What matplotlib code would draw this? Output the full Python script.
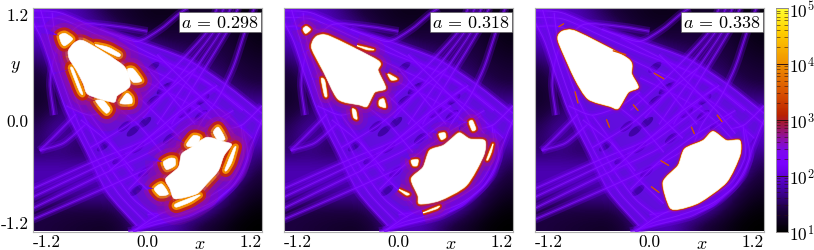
# Three panels of a log-scale density map with white islands, shared colour bar
import numpy as np
import matplotlib
matplotlib.use("Agg")
import matplotlib.pyplot as plt
from matplotlib.colors import LinearSegmentedColormap, LogNorm
from matplotlib.cm import ScalarMappable
from matplotlib.patches import Ellipse, PathPatch
from matplotlib.path import Path

plt.rcParams['font.family'] = ['cmr10', 'DejaVu Serif']
plt.rcParams['mathtext.fontset'] = 'cm'
plt.rcParams['axes.formatter.use_mathtext'] = True

a_values = ["0.298", "0.318", "0.338"]
tick_values = [-1.2, 0.0, 1.2]
tick_labels = ["-1.2", "0.0", "1.2"]
cbar_ticks = [1e1, 1e2, 1e3, 1e4, 1e5]

# rough density, rows from y=1.2 down to y=-1.2
background = np.array([
    [80, 80, 60, 35, 22, 18, 15, 14, 16, 18, 18, 14, 12],
    [90, 90, 100, 70, 45, 25, 20, 20, 22, 22, 22, 16, 13],
    [50, 90, 110, 110, 110, 90, 60, 35, 30, 28, 28, 20, 15],
    [25, 50, 110, 110, 110, 110, 110, 90, 60, 35, 30, 25, 20],
    [20, 30, 90, 110, 110, 110, 110, 110, 110, 90, 45, 30, 25],
    [18, 25, 55, 110, 110, 110, 110, 110, 110, 110, 90, 55, 45],
    [25, 45, 50, 90, 110, 110, 110, 110, 110, 110, 110, 110, 90],
    [35, 70, 35, 50, 90, 110, 110, 110, 110, 110, 110, 110, 80],
    [35, 35, 30, 35, 70, 110, 110, 110, 110, 110, 110, 90, 40],
    [70, 70, 70, 70, 70, 110, 110, 110, 110, 110, 110, 60, 25],
    [60, 60, 65, 60, 60, 90, 110, 110, 110, 110, 70, 30, 18],
    [30, 30, 28, 30, 30, 55, 90, 110, 110, 75, 35, 18, 12],
    [25, 22, 20, 18, 18, 28, 60, 70, 40, 22, 16, 11, 10],
])

# outline of the bright web
web_outline = [(-1.2, 1.18), (-.92, 1.15), (-.5, .97), (-.12, .85), (.41, .65), (.83, .37), (1.2, .07),
               (1.2, -.05), (1.04, -.28), (.935, -.6), (.69, -.92), (.34, -1.06), (-.045, -1.17), (-.11, -1.14),
               (-.424, -.776), (-.634, -.347), (-.85, .08), (-.97, .44), (-1.095, .83), (-1.2, 1.05)]

# filaments of the web, same in every panel
filaments = [
    [(-1.2, 1.17), (-.92, 1.15), (-.5, .97), (-.12, .85), (.41, .65), (.83, .37), (1.2, .07)],
    [(-1.2, 1.1), (-.9, 1.08), (-.5, .9), (-.1, .72), (.4, .52), (.8, .28), (1.2, -.05)],
    [(-1.2, 1.0), (-.95, 1.0), (-.6, .85), (-.1, .6), (.35, .38), (.75, .12), (1.1, -.2)],
    [(-.1, .45), (.3, .25), (.65, .02), (.95, -.3)],
    [(-.3, .88), (.2, .62), (.6, .42), (1.0, .1)],
    [(1.2, .0), (1.08, -.3), (.98, -.6), (.75, -.85), (.45, -1.03), (.1, -1.12), (-.2, -1.2)],
    [(1.0, -.1), (1.05, -.4), (.9, -.7), (.65, -.9), (.3, -1.03), (.05, -1.1), (-.15, -1.2)],
    [(.98, -.05), (1.0, -.4), (.85, -.68), (.6, -.85), (.3, -.97), (0, -1.02)],
    [(-.98, .05), (-1.02, .4), (-.95, .75), (-.7, 1.02), (-.3, 1.0), (0, .95)],
    [(-1.2, 1.05), (-1.095, .83), (-.97, .44), (-.85, .1), (-.634, -.347), (-.424, -.776), (-.11, -1.14)],
    [(-1.12, 1.18), (-1.0, .75), (-.87, .35), (-.72, -.05), (-.52, -.45), (-.3, -.8), (-.02, -1.1)],
    [(-1.0, 1.15), (-.95, .8), (-.78, .3), (-.6, -.1), (-.4, -.5), (-.15, -.85), (.1, -1.05)],
    [(-.6, .05), (-.35, -.3), (-.15, -.6), (.15, -.9)],
    [(-1.2, -.74), (-.5, -.42), (-.01, -.21), (.41, .12), (.73, .37)],
    [(-1.2, -.83), (-.5, -.49), (.025, -.24), (.55, .15)],
    [(-1.2, -.95), (-.5, -.6), (.095, -.31), (.62, .08)],
    [(-1.2, -1.07), (-.395, -.71), (.27, -.385), (.865, .045)],
    [(1.12, 1.2), (1.02, .94), (.9, .57), (.75, .25), (.55, -.05), (.45, -.3)],
    [(.95, 1.2), (.83, .94), (.58, .52), (.42, .25), (.25, -.05)],
    [(.87, 1.2), (.76, .94), (.5, .54), (.3, .25), (.1, -.05)],
    [(.8, 1.2), (.69, .94), (.42, .58), (.2, .3), (-.05, .02)],
    [(.73, 1.2), (.62, .94), (.32, .6), (.1, .38), (-.2, .1)],
    [(-.5, .97), (-.12, .84), (.13, .97), (.32, 1.13), (.42, 1.2)],
    [(-1.13, -.33), (-.97, -.17), (-.75, .06)],
    [(-1.13, -.33), (-.88, -.25), (-.65, -.05)],
    [(-.15, -1.2), (.1, -1.03), (.4, -.9)],
    [(1.2, .15), (1.0, -.05), (.85, -.1)],
    [(-.4, .2), (-.1, -.05), (.15, -.35)],
    [(-.2, .35), (.1, .05), (.35, -.2)],
    [(0, .55), (.25, .25), (.5, -.05)],
    [(-.7, 0), (-.4, -.25), (-.15, -.55)],
    [(-.6, -.3), (-.2, -.05), (.2, .3), (.5, .55)],
    [(-.4, -.55), (0, -.2), (.35, .1), (.7, .35)],
    [(-.2, -.75), (.1, -.45), (.5, -.15), (.9, .1)],
    [(.1, .7), (.4, .4), (.7, .1), (.9, -.15)],
    [(-.85, .15), (-.6, .05), (-.3, .15), (-.1, .3)],
]

# dark gaps between the filaments
hole_x = [.056, .21, .056, -.03, -.24, .56, .23, -.03, -.12, .58, .39, .165, -.15, -.46, -.3, .4, -.1, .7]
hole_y = [.563, .35, .2, -.03, -.07, .045, -.2, -.56, -.76, .22, .08, .33, -.12, -.28, -.42, -.5, -.3, -.05]

islands_298 = [
    [(-.83, .742), (-.76, .831), (-.655, .842), (-.253, .581), (-.183, .366), (-.316, .259), (-.358, .187), (-.62, .269), (-.673, .384), (-.742, .527), (-.819, .652)],
    [(-.924, .903), (-.865, .928), (-.784, .867), (-.865, .795), (-.90, .82)],
    [(-.55, .806), (-.41, .778), (-.288, .706), (-.306, .677), (-.41, .724)],
    [(-.208, .545), (-.148, .545), (-.061, .42), (-.148, .402), (-.201, .473)],
    [(-.288, .187), (-.218, .284), (-.166, .241), (-.166, .176), (-.253, .169)],
    [(-.543, .205), (-.463, .205), (-.393, .115), (-.428, .069), (-.48, .115)],
    [(-.805, .545), (-.777, .545), (-.679, .284), (-.714, .305)],
    [(.62, -.188), (.795, -.234), (.883, -.267), (.802, -.385), (.743, -.546), (.62, -.689), (.515, -.796), (.288, -.85), (.235, -.742), (.19, -.635), (.322, -.51), (.358, -.367), (.463, -.295)],
    [(.69, -.134), (.743, -.08), (.813, -.206), (.743, -.224)],
    [(.41, -.26), (.48, -.17), (.55, -.188), (.515, -.277), (.428, -.288)],
    [(.165, -.456), (.235, -.413), (.288, -.42), (.288, -.492), (.2, -.535)],
    [(.07, -.742), (.148, -.689), (.218, -.796), (.13, -.814)],
    [(.295, -.903), (.515, -.814), (.55, -.814), (.445, -.885), (.305, -.939)],
    [(.813, -.528), (.9, -.313), (.928, -.295), (.883, -.456), (.83, -.546)],
]
islands_318 = [
    [(-.907, .76), (-.896, .849), (-.844, .903), (-.721, .896), (-.215, .635), (-.215, .528), (-.135, .338), (-.25, .295), (-.33, .145), (-.407, .159), (-.634, .223), (-.791, .528)],
    [(-1.0, .975), (-.966, 1.003), (-.924, .968), (-.973, .928)],
    [(-.435, .796), (-.26, .753), (-.33, .753)],
    [(-.11, .492), (-.016, .438), (-.075, .427)],
    [(-.2, .206), (-.156, .223), (-.135, .134), (-.2, .152)],
    [(-.484, .116), (-.449, .098), (-.435, .009), (-.47, .027)],
    [(-.809, .438), (-.774, .42), (-.75, .26), (-.774, .26)],
    [(.64, -.141), (.746, -.206), (.903, -.224), (.892, -.385), (.71, -.706), (.431, -.868), (.222, -.903), (.204, -.814), (.134, -.635), (.257, -.51), (.326, -.331), (.466, -.277), (.553, -.206)],
    [(.74, -.027), (.774, -.009), (.809, -.098), (.774, -.116)],
    [(.424, -.152), (.484, -.141), (.494, -.188), (.449, -.213)],
    [(.134, -.438), (.204, -.431), (.194, -.492), (.152, -.492)],
    [(.005, -.749), (.11, -.796), (.082, -.807)],
    [(.257, -1.0), (.424, -.928), (.396, -.957)],
    [(.927, -.42), (.99, -.26), (.972, -.349), (.938, -.428)],
]
islands_338 = [
    [(-.956, .903), (-.904, .953), (-.764, .946), (-.223, .653), (-.188, .492), (-.119, .349), (-.223, .295), (-.328, .123), (-.415, .145), (-.642, .223), (-.781, .438), (-.945, .814)],
    [(.666, -.127), (.806, -.224), (.945, -.224), (.945, -.385), (.806, -.671), (.527, -.885), (.317, -.957), (.213, -.939), (.143, -.671), (.3, -.492), (.37, -.313), (.561, -.224)],
]
# short orange streaks left over at a = 0.338
streaks_338 = [
    [(-.95, 1.0), (-.9, 1.03)], [(-.38, .74), (-.25, .7)], [(.05, .5), (.15, .44)],
    [(-.17, .16), (-.12, .1)], [(-.45, .0), (-.42, -.08)], [(-.78, .3), (-.75, .18)],
    [(.71, .05), (.76, -.02)], [(.44, -.08), (.47, -.15)], [(.12, -.44), (.2, -.49)],
    [(.02, -.72), (.1, -.78)],
]

all_islands = [islands_298, islands_318, islands_338]
all_streaks = [[], [], streaks_338]
# haze widths round the islands for each panel
glow_widths = [[26, 15, 8.5, 4], [16, 9, 3.6, 1.2], [6, 3.5, 2, 1.1]]
glow_colours = ["#90109c", "#a0148c", "#c82800", "#f08a00"]
glow_alphas = [0.2, 0.4, 0.85, 1.0]

cmap = LinearSegmentedColormap.from_list("density", [
    (0.0, "#000000"), (0.1, "#1c0040"), (0.2, "#4a00b0"), (0.3, "#7a00ff"),
    (0.36, "#7c08ee"), (0.42, "#9010a0"), (0.48, "#a01840"), (0.52, "#b82000"),
    (0.62, "#d85000"), (0.75, "#f09000"), (0.9, "#ffd000"), (1.0, "#ffff30"),
])
norm = LogNorm(vmin=10, vmax=1e5)


def smooth_path(pts, closed=False):
    # cubic spline that goes through the given points
    pts = np.array(pts, dtype=float)
    n = len(pts)
    verts = [pts[0]]
    codes = [Path.MOVETO]
    stop = n if closed else n - 1
    for i in range(stop):
        if closed:
            p0, p1, p2, p3 = pts[i - 1], pts[i], pts[(i + 1) % n], pts[(i + 2) % n]
        else:
            p0, p1, p2, p3 = pts[max(i - 1, 0)], pts[i], pts[i + 1], pts[min(i + 2, n - 1)]
        verts += [p1 + (p2 - p0) / 8, p2 - (p3 - p1) / 8, p2]
        codes += [Path.CURVE4] * 3
    return Path(verts, codes)


W, H = 814, 251
fig = plt.figure(figsize=(W / 100, H / 100), dpi=100)
lefts = [33, 284, 535]
width, top, height = 229, 9, 223.5

for i, left in enumerate(lefts):
    ax = fig.add_axes([left / W, 1 - (top + height) / H, width / W, height / H])
    ax.imshow(background, cmap=cmap, norm=norm, extent=[-1.2, 1.2, -1.2, 1.2],
              interpolation='bicubic', aspect='auto')
    ax.add_patch(PathPatch(smooth_path(web_outline, True), fc="#6210e0", ec='none', alpha=0.85))
    for hx, hy in zip(hole_x, hole_y):
        ax.add_patch(Ellipse((hx, hy), 0.17, 0.07, angle=40, color="#38009a", alpha=0.8, lw=0))
    for line in filaments:
        path = smooth_path(line)
        ax.add_patch(PathPatch(path, fc='none', ec="#7a00ff", lw=6, alpha=0.25))
        ax.add_patch(PathPatch(path, fc='none', ec="#7a00ff", lw=2.6, alpha=0.45))
        ax.add_patch(PathPatch(path, fc='none', ec="#8a20ff", lw=0.7, alpha=0.6))
    for isl in all_islands[i]:
        for lw, c, al in zip(glow_widths[i], glow_colours, glow_alphas):
            ax.add_patch(PathPatch(smooth_path(isl, True), fc=c, ec=c, lw=lw, alpha=al, joinstyle='round'))
    for isl in all_islands[i]:
        ax.add_patch(PathPatch(smooth_path(isl, True), fc='white', ec='white', lw=0.4))
    for s in all_streaks[i]:
        ax.plot(*zip(*s), color="#d85000", lw=1.0, solid_capstyle='round')
    ax.set_xlim(-1.2, 1.2)
    ax.set_ylim(-1.2, 1.2)

    ax.set_xticks(tick_values, tick_labels, fontsize=12.5)
    ax.tick_params(length=0, pad=3)
    ax.tick_params(axis='x', pad=1.5)
    xl = ax.get_xticklabels()
    xl[0].set_ha('left')
    xl[2].set_ha('right')
    if i == 0:
        ax.set_yticks(tick_values, tick_labels, fontsize=12.5)
        yl = ax.get_yticklabels()
        yl[0].set_va('bottom')
        yl[2].set_va('top')
        ax.text(-0.075, 0.74, r"$y$", transform=ax.transAxes, fontsize=13, ha='center', va='center')
    else:
        ax.set_yticks([])
    ax.text(0.727, -0.052, r"$x$", transform=ax.transAxes, fontsize=13, ha='center', va='center')
    ax.text(0.985, 0.972, r"$a\,=\,$" + f"${a_values[i]}$", transform=ax.transAxes, fontsize=13, ha='right', va='top',
            bbox=dict(fc='white', ec='#555555', lw=0.4, boxstyle='square,pad=0.12'))
    for sp in ax.spines.values():
        sp.set_color('#b0b0b0')
        sp.set_linewidth(0.8)

cax = fig.add_axes([776 / W, 1 - (top + height) / H, 12 / W, height / H])
cb = fig.colorbar(ScalarMappable(norm=norm, cmap=cmap), cax=cax)
cb.set_ticks(cbar_ticks, labels=[r"$10^{%d}$" % np.log10(t) for t in cbar_ticks])
cax.tick_params(which='major', direction='in', length=8.6, width=0.6, color='#301010',
                left=True, right=True, labelsize=12.5, pad=1)
cax.tick_params(which='minor', direction='in', length=3, width=0.4, color='#301010', left=True, right=True)
cb.outline.set_edgecolor('#a0a0a0')
cb.outline.set_linewidth(0.6)

fig.savefig("out.png", dpi=100)
